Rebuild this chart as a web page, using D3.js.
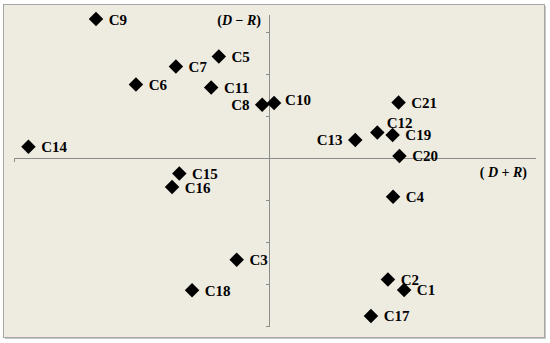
<!DOCTYPE html>
<html>
<head>
<meta charset="utf-8">
<script src="https://cdn.jsdelivr.net/npm/d3@7"></script>
<style>
body { margin: 0; background: #ffffff; }
svg { display: block; }
.lbl { font-family: "Liberation Serif", "Times New Roman", serif; font-weight: bold; font-size: 15px; fill: #000; }
.axt { font-family: "Liberation Serif", "Times New Roman", serif; font-weight: bold; font-size: 14px; fill: #000; }
</style>
</head>
<body>
<svg width="550" height="343"></svg>
<script>
// data
var names = ["C1","C2","C3","C4","C5","C6","C7","C8","C9","C10","C11","C12","C13","C14","C15","C16","C17","C18","C19","C20","C21"];
var xs = [3.18, 2.80, -0.76, 2.92, -1.18, -3.13, -2.19, -0.16, -4.07, 0.12, -1.36, 2.55, 2.03, -5.66, -2.11, -2.28, 2.40, -1.81, 2.91, 3.07, 3.05];
var ys = [-3.14, -2.89, -2.42, -0.92, 2.42, 1.75, 2.18, 1.27, 3.31, 1.31, 1.68, 0.61, 0.43, 0.27, -0.37, -0.69, -3.76, -3.15, 0.55, 0.05, 1.32];
var yTicks = [-4, -3, -2, -1, 0, 1, 2, 3];
var xTicks = [-6, 0];

var svg = d3.select("svg");

// frame with a faint shadow on the right / bottom
svg.append("rect")
    .attr("x", 5).attr("y", 6)
    .attr("width", 541).attr("height", 333)
    .attr("fill", "#C8C8C8");
svg.append("rect")
    .attr("x", 3.5).attr("y", 4.5)
    .attr("width", 541).attr("height", 333)
    .attr("fill", "#EEECE1")
    .attr("stroke", "#A6A6A6");

var x = d3.scaleLinear().domain([-6, 6.26]).range([14, 535]);
var y = d3.scaleLinear().domain([-4, 3.43]).range([326, 14]);

var data = names.map(function(n, i){ return {name: n, x: xs[i], y: ys[i]}; });

// axes cross at 0,0
svg.append("g")
    .attr("transform", "translate(0," + y(0) + ")")
    .call(d3.axisBottom(x).tickValues(xTicks).tickSize(4).tickSizeOuter(0).tickFormat(""));
svg.append("g")
    .attr("transform", "translate(" + x(0) + ",0)")
    .call(d3.axisLeft(y).tickValues(yTicks).tickSize(3).tickSizeOuter(0).tickFormat(""));
svg.selectAll(".domain, .tick line").attr("stroke", "#8C8C8C").attr("shape-rendering", "crispEdges");

// axis titles
var t1 = svg.append("text").attr("class", "axt").attr("x", 261).attr("y", 25).attr("text-anchor", "end");
t1.append("tspan").text("(");
t1.append("tspan").attr("font-style", "italic").text("D");
t1.append("tspan").text(" \u2212 ");
t1.append("tspan").attr("font-style", "italic").text("R");
t1.append("tspan").text(")");

var t2 = svg.append("text").attr("class", "axt").attr("x", 527).attr("y", 177).attr("text-anchor", "end");
t2.append("tspan").text("( ");
t2.append("tspan").attr("font-style", "italic").text("D");
t2.append("tspan").text(" + ");
t2.append("tspan").attr("font-style", "italic").text("R");
t2.append("tspan").text(")");

// points
svg.selectAll(".pt")
    .data(data)
    .enter().append("path")
    .attr("class", "pt")
    .attr("d", d3.symbol().type(d3.symbolSquare).size(105))
    .attr("transform", function(d){ return "translate(" + x(d.x) + "," + y(d.y) + ") rotate(45)"; })
    .attr("fill", "#000");

// label placement tweaks
var special = {
    "C8": {dx: -12.7, dy: 5.5, anchor: "end"},
    "C13": {dx: -12.7, dy: 5.5, anchor: "end"},
    "C12": {dx: 9.4, dy: -4, anchor: "start"},
    "C10": {dx: 11, dy: 1.5, anchor: "start"}
};

svg.selectAll(".lbl")
    .data(data)
    .enter().append("text")
    .attr("class", "lbl")
    .attr("x", function(d){ var s = special[d.name]; return x(d.x) + (s ? s.dx : 12.7); })
    .attr("y", function(d){ var s = special[d.name]; return y(d.y) + (s ? s.dy : 5.5); })
    .attr("text-anchor", function(d){ var s = special[d.name]; return s ? s.anchor : "start"; })
    .text(function(d){ return d.name; });
</script>
</body>
</html>
